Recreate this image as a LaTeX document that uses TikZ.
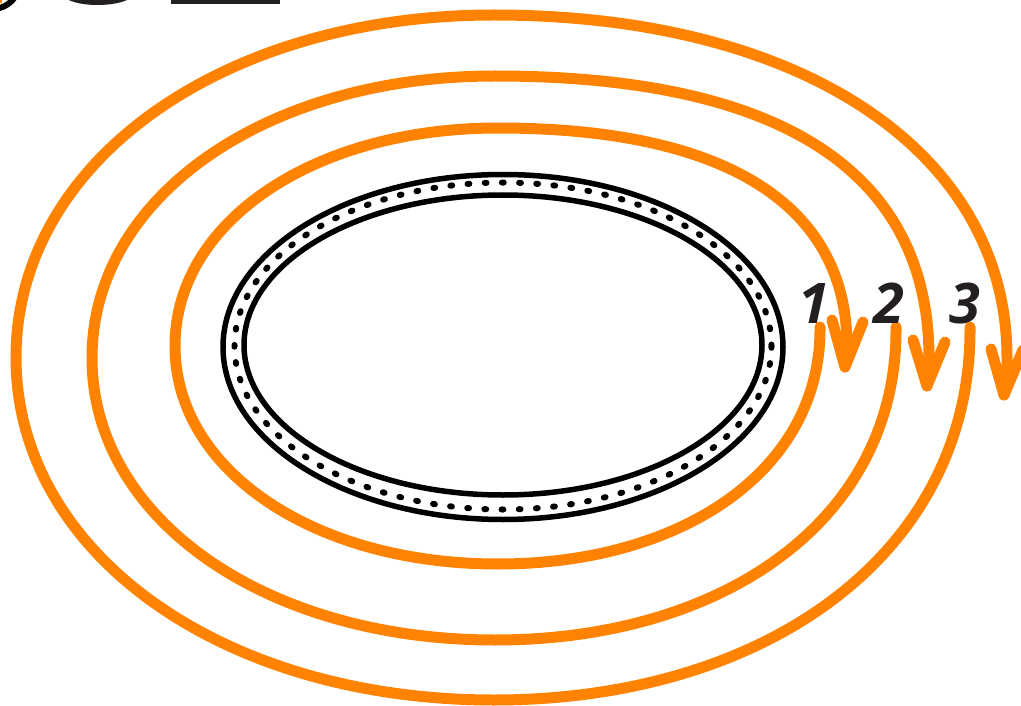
\documentclass[tikz,border=0pt]{standalone}
\usepackage{fontspec}
\newfontfamily\numfont{Open Sans}
\definecolor{ringorange}{RGB}{255,131,0}
\definecolor{inkgray}{RGB}{35,31,32}
\begin{document}
\begin{tikzpicture}[x=1pt,y=-1pt,
  ring/.style={draw=ringorange, line width=11pt, line cap=round, line join=round},
  blackring/.style={draw=black, line width=5.5pt},
  dotring/.style={draw=black, line width=6pt, line cap=round, dash pattern=on 1.8pt off 15.4pt},
  digit/.style={text=inkgray, font=\numfont\bfseries\itshape\fontsize{56}{60}\selectfont, inner sep=0pt, anchor=base},
  frag/.style={fill=inkgray}]
\useasboundingbox (0,0) rectangle (1021,706);
\fill[white] (0,0) rectangle (1021,706);
\begin{scope}
\clip (0,0) rectangle (1021,706);
% cut-off fragments at the top edge
\draw[black, line width=6pt] (-4,9) .. controls (5,7) and (11,3) .. (15,-3);
\fill[ringorange] (-2,-2) rectangle (2,3);
\fill[frag] (67,-1) .. controls (80,7) and (115,7) .. (129,-1) -- cycle;
\fill[frag] (171,-1) rectangle (280,4);
\end{scope}
% black ring
\draw[blackring] (503,347) ellipse [x radius=280, y radius=172.5];
\draw[dotring] (503,346) ellipse [x radius=268.5, y radius=163.5];
\draw[blackring] (503,345) ellipse [x radius=259, y radius=150];
% orange rings
\coordinate (e1) at (845,367);
\coordinate (e2) at (927,386);
\coordinate (e3) at (1004,395);
\draw[ring] (820,327) .. controls (821.5,470.3) and (682.1,564) .. (498,564)
  .. controls (313.9,564) and (175,470.3) .. (175,346)
  .. controls (175,221.7) and (313.9,128) .. (498,128)
  .. controls (724.8,128) and (847,204.3) .. (847,346)
  .. controls (847,356) .. (e1);
\draw[ring] (832,320) -- (e1) -- (863,322);
\draw[ring] (896,327) .. controls (898,518.7) and (724.7,640) .. (495,640)
  .. controls (265.3,640) and (92,518.7) .. (92,358)
  .. controls (92,197.3) and (265.3,76) .. (495,76)
  .. controls (781.4,76) and (929,171.9) .. (929,358)
  .. controls (929,372) .. (e2);
\draw[ring] (913,340) -- (e2) -- (945,342);
\draw[ring] (970,327) .. controls (972,552.7) and (766.5,700) .. (494,700)
  .. controls (221.5,700) and (16,552.7) .. (16,357.5)
  .. controls (16,162.3) and (221.5,15) .. (494,15)
  .. controls (801.8,15) and (1007,152) .. (1007,357.5)
  .. controls (1007,375) .. (e3);
\draw[ring] (991,349) -- (e3) -- (1023,350);
% labels
\node[digit] (l1) at (814,323) {1};
\node[digit] (l2) at (889,323) {2};
\node[digit] (l3) at (965,323) {3};
\end{tikzpicture}
\end{document}
